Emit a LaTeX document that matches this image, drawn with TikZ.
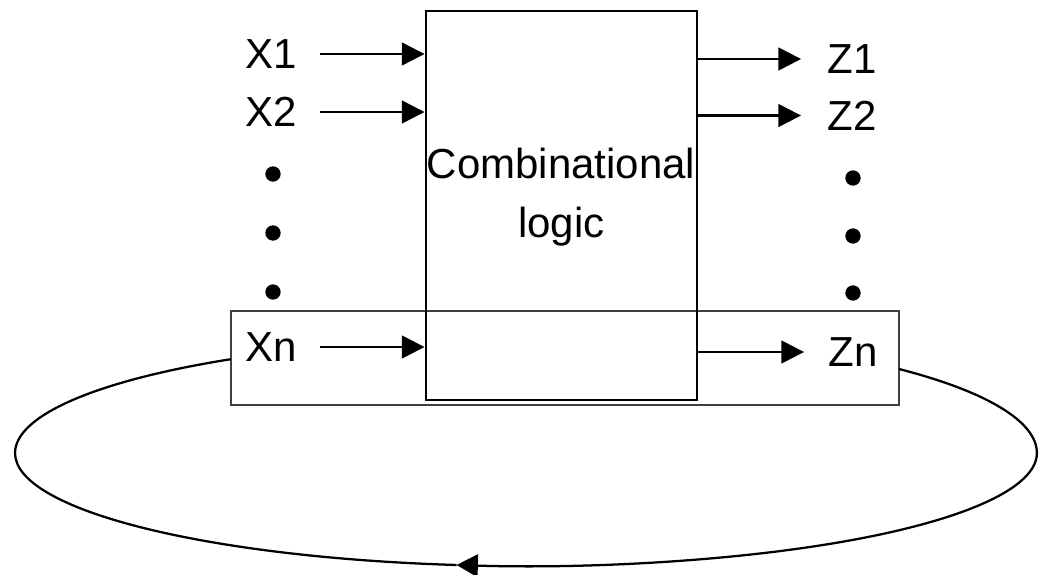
\documentclass[tikz,border=0pt]{standalone}
\usepackage{fontspec}
\setmainfont{Liberation Sans}
\usetikzlibrary{arrows.meta}
\begin{document}
\begin{tikzpicture}[x=0.75pt,y=-0.75pt,
  lbl/.style={font=\fontsize{31.5pt}{38pt}\selectfont, inner sep=0pt},
  sig/.style={line width=1.8pt, -{Triangle[length=17pt,width=17pt]}},
  dotn/.style={circle, fill=black, minimum size=11.5pt, inner sep=0pt},
  loopline/.style={line width=1.7pt},
  tip/.style={-{Triangle[length=16pt,width=17pt]}}]
\useasboundingbox (0,0) rectangle (1040,575);
% lower rectangle
\node[draw=black!75, line width=0.8pt, minimum width=501pt, minimum height=70.5pt, inner sep=0pt] (fb) at (565,358) {};
% main box
\node[draw=black, line width=2.2pt, minimum width=203.25pt, minimum height=291.75pt, inner sep=0pt] (box) at (561.5,205.5) {};
\node[lbl, anchor=base] (t1) at (561,178) {Combinational};
\node[lbl, anchor=base] (t2) at (561.5,237) {logic};
% inputs
\node[lbl] (x1) at (271.5,54) {X1};
\node[lbl] (x2) at (271.5,112) {X2};
\node[lbl] (xn) at (271.5,347) {Xn};
\node[dotn] (ld1) at (273,174) {};
\node[dotn] (ld2) at (273,233) {};
\node[dotn] (ld3) at (273,292) {};
% outputs
\node[lbl] (z1) at (852.5,59) {Z1};
\node[lbl] (z2) at (852.5,115.5) {Z2};
\node[lbl] (zn) at (853.5,352) {Zn};
\node[dotn] (rd1) at (853,178) {};
\node[dotn] (rd2) at (853,236) {};
\node[dotn] (rd3) at (853,293) {};
% input arrows
\draw[sig] ([xshift=17.25pt]x1.east) -- (x1 -| box.west);
\draw[sig] ([xshift=17.25pt]x2.east) -- (x2 -| box.west);
\draw[sig] ([xshift=17.25pt]xn.east) -- (xn -| box.west);
% output arrows
\draw[sig] (z1 -| box.east) -- ([xshift=-20pt]z1.west);
\draw[sig] (z2 -| box.east) -- ([xshift=-20pt]z2.west);
\draw[sig] (zn -| box.east) -- ([xshift=-18.5pt]zn.west);
% feedback loop
\coordinate (loopR) at (899,369);
\coordinate (loopB) at (456.7,565);
\draw[loopline, tip] (loopR)
  arc[start angle=43.1, end angle=0, x radius=383.25pt, y radius=92.25pt]
  arc[start angle=0, end angle=-97.8, x radius=383.25pt, y radius=84.75pt];
\draw[loopline] (loopB)
  arc[start angle=-97.8, end angle=-180, x radius=383.25pt, y radius=84.75pt]
  arc[start angle=180, end angle=125.3, x radius=383.25pt, y radius=86.25pt];
\end{tikzpicture}
\end{document}
